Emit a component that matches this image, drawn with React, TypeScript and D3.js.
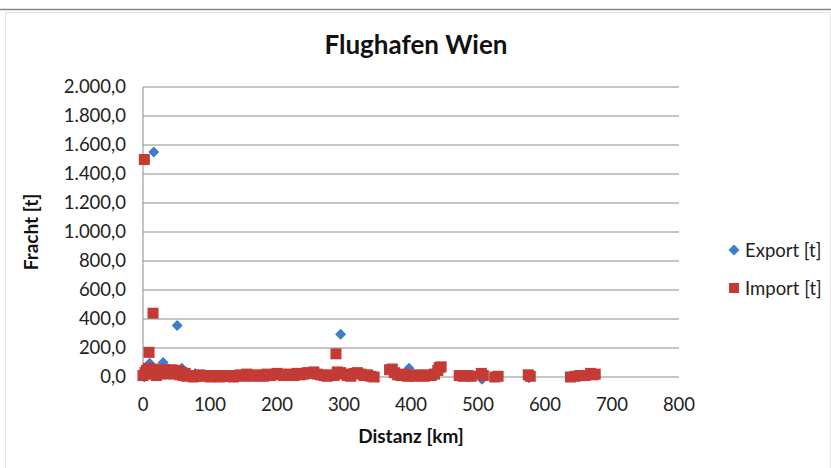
import React from "react";
import * as d3 from "d3";

const xTicks = [0, 100, 200, 300, 400, 500, 600, 700, 800];
const yTicks = [0, 200, 400, 600, 800, 1000, 1200, 1400, 1600, 1800, 2000];

const exportX = [2, 10, 16, 30, 51, 58, 78, 295, 397, 506, 576];
const exportY = [0, 95, 1552, 100, 355, 60, 25, 295, 60, -15, -5];

const importX = [
  2, 9, 15, 288,
  0, 3, 5, 8, 10, 12, 15, 18, 20, 22, 25, 28, 30, 33, 35, 38, 40, 43, 45, 48, 50, 53, 55, 58, 60, 63, 65, 70,
  75, 80, 85, 90, 95, 100, 105, 110, 115, 120, 125, 130, 135, 140, 145, 150, 155, 160, 165, 170, 175, 180,
  185, 190, 195, 200, 205, 210, 215, 220, 225, 230, 235, 240, 245, 250, 255, 260, 265, 270, 275, 280, 285,
  290, 295, 300, 305, 310, 315, 320, 325, 330, 335, 340, 345,
  368, 372, 375, 380, 385, 390, 395, 400, 405, 410, 415, 420, 425, 430, 435, 440, 442, 445,
  472, 478, 485, 490, 505, 508, 525, 530, 575, 578, 638, 645, 652, 660, 668, 672, 675,
];
const importY = [
  1500, 170, 440, 160,
  10, 30, 45, 60, 20, 40, 55, 30, 10, 50, 45, 20, 40, 50, 25, 45, 30, 50, 20, 45, 35, 40, 15, 30, 10, 25, 5, 10,
  0, 5, 15, 5, 10, 0, 5, 10, 0, 5, 10, 5, 0, 10, 15, 5, 20, 10, 5, 15, 10, 5,
  20, 10, 15, 25, 20, 10, 15, 20, 10, 25, 15, 20, 30, 25, 35, 20, 15, 10, 5, 15, 10,
  35, 30, 20, 10, 5, 25, 30, 20, 10, 15, 5, 0,
  50, 55, 30, 15, 10, 20, 5, 10, 5, 15, 10, 5, 15, 10, 20, 45, 65, 70,
  10, 5, 10, 5, 25, 10, 0, 5, 15, 5, 0, 5, 10, 10, 25, 15, 20,
];

const W = 831;
const H = 468;
const FONT = "Lato, 'Open Sans', sans-serif";
const BLUE = "#3F7BCB";
const RED = "#C43B35";
const SQ = 11;
const DIAMOND = "M0,-5.5L5.5,0L0,5.5L-5.5,0Z";

export default function App() {
  const x = d3.scaleLinear().domain([0, 800]).range([143, 679]);
  const y = d3.scaleLinear().domain([0, 2000]).range([377, 87]);
  const fmt = (v: number) => {
    const s = d3.format(",.1f")(v);
    return s.replace(/,/g, "#").replace(".", ",").replace(/#/g, ".");
  };

  return (
    <svg width={W} height={H} style={{ position: "absolute", left: 0, top: 0 }}>
      <rect x={0} y={0} width={W} height={H} fill="#fff" />
      <line x1={0} x2={W} y1={9.5} y2={9.5} stroke="#888" strokeWidth={1.5} />
      <rect x={5.5} y={12.5} width={W - 6} height={H - 10} fill="none" stroke="#e2e2e2" />
      <text x={416} y={54} textAnchor="middle" fontFamily={FONT} fontWeight="bold" fontSize={26} fill="#111">
        Flughafen Wien
      </text>
      {yTicks.map((t) => (
        <g key={t}>
          <line x1={143} x2={679} y1={y(t)} y2={y(t)} stroke="#8c8c8c" strokeWidth={1} />
          <text x={126} y={y(t) + 6} textAnchor="end" fontFamily={FONT} fontSize={18.5} fill="#222">
            {fmt(t)}
          </text>
        </g>
      ))}
      <line x1={143} x2={143} y1={87} y2={377} stroke="#8c8c8c" strokeWidth={1} />
      {xTicks.map((t) => (
        <text key={t} x={x(t)} y={411} textAnchor="middle" fontFamily={FONT} fontSize={18.5} fill="#222">
          {t}
        </text>
      ))}
      <text x={411} y={443} textAnchor="middle" fontFamily={FONT} fontWeight="bold" fontSize={19} fill="#111">
        Distanz [km]
      </text>
      <text
        transform={`translate(38,232) rotate(-90)`}
        textAnchor="middle"
        fontFamily={FONT}
        fontWeight="bold"
        fontSize={19}
        fill="#111"
      >
        Fracht [t]
      </text>
      {exportX.map((d, i) => (
        <path key={"e" + i} d={DIAMOND} transform={`translate(${x(d)},${y(exportY[i])})`} fill={BLUE} />
      ))}
      {importX.map((d, i) => (
        <rect key={"i" + i} x={x(d) - SQ / 2} y={y(importY[i]) - SQ / 2} width={SQ} height={SQ} fill={RED} />
      ))}
      <path d={DIAMOND} transform="translate(734,250)" fill={BLUE} />
      <text x={745} y={257} fontFamily={FONT} fontSize={18.5} fill="#222">
        Export [t]
      </text>
      <rect x={729} y={283} width={10} height={10} fill={RED} />
      <text x={745} y={295} fontFamily={FONT} fontSize={18.5} fill="#222">
        Import [t]
      </text>
    </svg>
  );
}
